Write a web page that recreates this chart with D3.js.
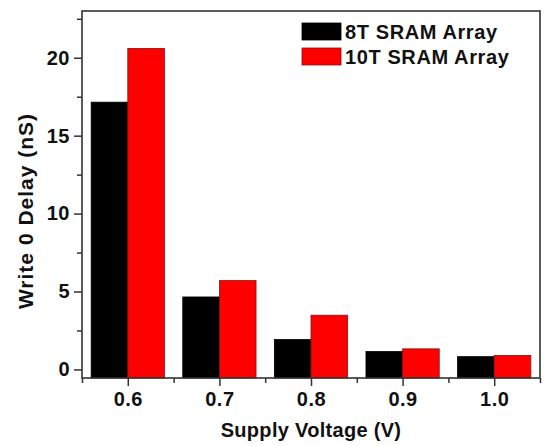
<!DOCTYPE html>
<html>
<head>
<meta charset="utf-8">
<script src="https://cdn.jsdelivr.net/npm/d3@7"></script>
<style>
  body { margin: 0; background: #fff; }
  text { font-family: Arial, "Liberation Sans", sans-serif; font-weight: bold; fill: #111; }
</style>
</head>
<body>
<svg id="chart" width="545" height="446"></svg>
<script>
// supply voltages (V)
var voltages = [0.6, 0.7, 0.8, 0.9, 1.0];
var voltLabels = ["0.6", "0.7", "0.8", "0.9", "1.0"];
// write 0 delay (nS)
var delay8T = [17.15, 4.65, 1.92, 1.15, 0.82];
var delay10T = [20.6, 5.7, 3.48, 1.32, 0.9];
var seriesNames = ["8T SRAM Array", "10T SRAM Array"];
var seriesColors = ["#000000", "#ff0000"];
var yTicks = [0, 5, 10, 15, 20];

var width = 545, height = 446;
var margin = {top: 11, right: 5, bottom: 68, left: 82};
var w = width - margin.left - margin.right,
    h = height - margin.top - margin.bottom;

var svg = d3.select("#chart");
var g = svg.append("g")
    .attr("transform", "translate(" + margin.left + "," + margin.top + ")");

var x = d3.scaleLinear().domain([0.55, 1.05]).range([0, w]);
var y = d3.scaleLinear().domain([-0.55, 23]).range([h, 0]);
var barW = 0.04;

// bars
var series = [delay8T, delay10T];
series.forEach(function(vals, s) {
  g.selectAll(".bar" + s)
    .data(vals)
    .enter().append("rect")
      .attr("class", "bar" + s)
      .attr("x", function(d, i) { return x(voltages[i] + (s === 0 ? -barW : 0)); })
      .attr("width", x(barW) - x(0))
      .attr("y", function(d) { return y(d); })
      .attr("height", function(d) { return y(-0.55) - y(d); })
      .attr("fill", seriesColors[s])
      .attr("stroke", s === 0 ? "#000" : "#8a1010")
      .attr("stroke-width", 0.8);
});

// minor ticks
var xMinor = [0.55, 0.65, 0.75, 0.85, 0.95, 1.05];
var yMinor = [2.5, 7.5, 12.5, 17.5, 22.5];

g.append("g")
    .attr("transform", "translate(0," + h + ")")
    .call(d3.axisBottom(x).tickValues(xMinor).tickSize(5).tickFormat(""))
    .call(function(a) { a.select(".domain").remove(); });
g.append("g")
    .call(d3.axisLeft(y).tickValues(yMinor).tickSize(5).tickFormat(""))
    .call(function(a) { a.select(".domain").remove(); });

// major axes
var xAxis = g.append("g")
    .attr("transform", "translate(0," + h + ")")
    .call(d3.axisBottom(x).tickValues(voltages).tickSize(8).tickPadding(6)
      .tickFormat(function(d, i) { return voltLabels[i]; }));
xAxis.select(".domain").remove();
xAxis.selectAll("text").style("font-size", "20px").style("letter-spacing", "0.5px");

var yAxis = g.append("g")
    .call(d3.axisLeft(y).tickValues(yTicks).tickSize(8).tickPadding(4));
yAxis.select(".domain").remove();
yAxis.selectAll("text").style("font-size", "20px").style("letter-spacing", "0.5px");

g.selectAll(".tick line").attr("stroke", "#333").attr("stroke-width", 1.5);

// frame
g.append("rect")
    .attr("width", w).attr("height", h)
    .attr("fill", "none")
    .attr("stroke", "#333")
    .attr("stroke-width", 1.6);

// axis titles
svg.append("text")
    .attr("x", margin.left + w / 2)
    .attr("y", 437)
    .attr("text-anchor", "middle")
    .style("font-size", "20px")
    .style("letter-spacing", "0.3px")
    .text("Supply Voltage (V)");

svg.append("text")
    .attr("transform", "translate(33,211) rotate(-90)")
    .attr("text-anchor", "middle")
    .style("font-size", "21px")
    .style("letter-spacing", "1px")
    .text("Write 0 Delay (nS)");

// legend
var legend = svg.append("g").attr("transform", "translate(302,23)");
seriesNames.forEach(function(name, i) {
  legend.append("rect")
    .attr("x", 0).attr("y", i * 25)
    .attr("width", 39).attr("height", 17)
    .attr("fill", seriesColors[i])
    .attr("stroke", i === 0 ? "#000" : "#8a1010")
    .attr("stroke-width", 0.8);
  legend.append("text")
    .attr("x", 43).attr("y", i * 25 + 16)
    .style("font-size", "20px")
    .style("letter-spacing", "0.6px")
    .text(name);
});
</script>
</body>
</html>
